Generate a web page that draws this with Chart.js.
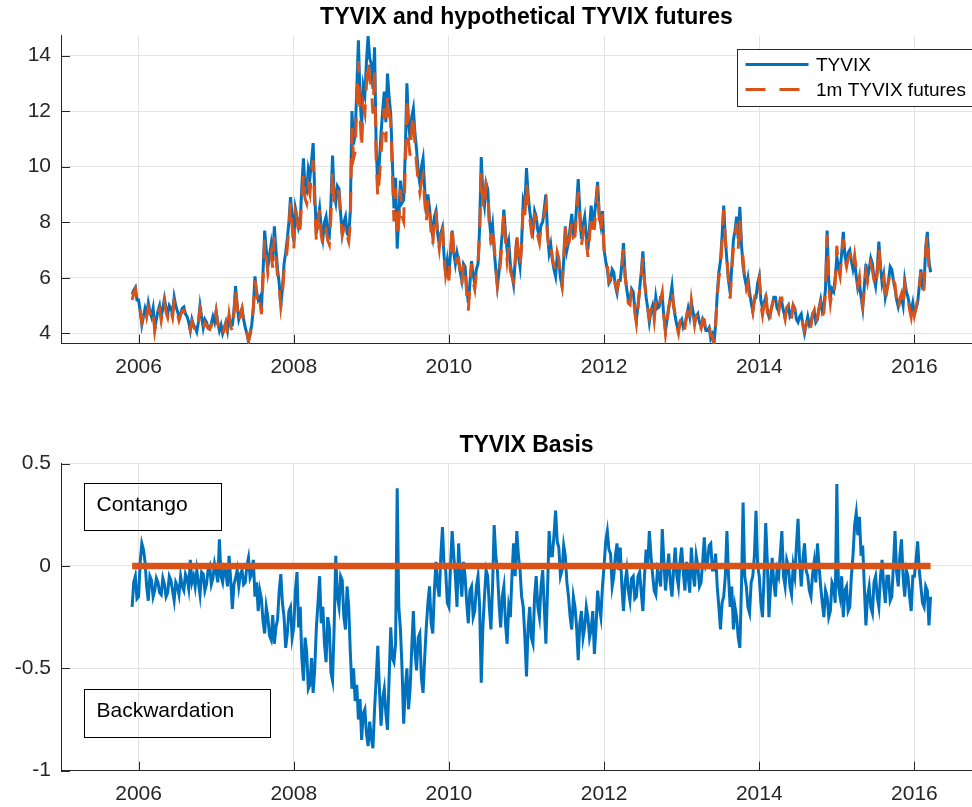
<!DOCTYPE html>
<html><head><meta charset="utf-8">
<script src="https://cdn.jsdelivr.net/npm/chart.js@4.4.1/dist/chart.umd.min.js"></script>
<style>
html,body{margin:0;padding:0;background:#fff;overflow:hidden;width:972px;height:807px;}
#wrap{position:relative;width:972px;height:807px;overflow:hidden;background:#fff;}
canvas{position:absolute;left:0;}
#c1{top:0;}
#c2{top:428px;}
</style></head><body>
<div id="wrap"><canvas id="c1" width="992" height="400"></canvas><canvas id="c2" width="992" height="379"></canvas></div>
<script>
// ---- data: weekly observations, the first one at the start of Dec 2005 ----
const firstObs = 2005 + 44/48;
const obsPerYear = 48;
const xTickYears = [2006, 2008, 2010, 2012, 2014, 2016];
const topYTicks = [4, 6, 8, 10, 12, 14];
const basisYTicks = [-1, -0.5, 0, 0.5];
const seriesNames = ['TYVIX', '1m TYVIX futures'];
const annotationTexts = ['Contango', 'Backwardation'];

const tyvix = [
5.4, 5.55, 5.65, 5.2,
5.2, 4.8, 4.3, 4.6, 4.9, 4.7, 5.1, 4.8, 4.6, 4.9, 4.2, 4.5, 4.8, 5.0, 4.6, 4.9, 5.25, 4.9, 4.7, 5.0, 4.9, 4.7, 5.3, 5.0,
4.8, 4.6, 4.7, 4.9, 4.95, 4.7, 4.6, 4.4, 4.1, 4.5, 4.3, 4.2, 4.05, 4.4, 5.0, 4.6, 4.2, 4.5, 4.4, 4.2, 4.15, 4.35, 4.6, 4.4,
4.8, 4.4, 4.1, 4.3, 4.0, 4.2, 4.4, 4.1, 4.6, 4.3, 4.3, 4.8, 5.7, 5.0, 4.5, 4.7, 4.9, 4.5, 4.2, 4.0, 3.7, 4.0, 4.3, 4.9,
6.05, 5.5, 5.2, 5.3, 4.85, 6.2, 7.7, 7.0, 6.4, 6.8, 7.2, 6.6, 7.85, 7.0, 6.3, 5.8, 5.0, 5.6, 6.5, 6.9, 7.4, 8.0, 8.9, 8.2,
7.3, 8.5, 8.2, 7.8, 8.0, 9.3, 10.3, 9.2, 9.1, 9.9, 9.6, 10.2, 10.85, 9.0, 7.6, 8.1, 8.5, 7.8, 7.4, 8.0, 8.2, 7.6, 7.5, 8.7,
10.4, 9.0, 8.7, 9.3, 9.2, 8.3, 7.6, 8.0, 8.2, 7.6, 7.5, 8.4, 12.0, 10.8, 11.2, 12.8, 14.55, 12.5, 11.5, 12.9, 12.6, 13.8, 14.7, 13.9,
13.7, 12.8, 14.3, 10.7, 9.3, 10.2, 11.2, 12.0, 12.7, 11.6, 13.35, 12.5, 11.9, 10.2, 8.5, 9.6, 7.05, 8.2, 9.5, 8.7, 8.8, 10.5, 13.0, 11.6,
11.0, 11.8, 12.1, 11.2, 10.6, 9.8, 9.4, 10.0, 10.3, 9.2, 8.3, 9.0, 8.5, 7.9, 7.5, 8.2, 8.4, 7.6, 7.2, 7.6, 7.8, 6.8, 6.1, 6.6,
6.1, 6.9, 7.7, 6.9, 6.5, 6.9, 6.6, 6.2, 5.9, 6.5, 6.4, 5.6, 5.1, 5.8, 6.6, 6.1, 5.8, 6.3, 6.5, 7.8, 10.35, 9.0, 8.6, 9.4,
9.2, 8.1, 7.5, 7.9, 7.0, 6.3, 5.7, 6.2, 6.9, 7.6, 8.45, 7.6, 7.0, 7.3, 6.5, 6.1, 5.75, 6.6, 7.4, 6.8, 6.4, 7.3, 8.8, 8.6,
9.95, 9.0, 8.4, 8.0, 7.7, 8.4, 8.2, 7.7, 7.5, 7.9, 8.0, 8.5, 9.0, 7.6, 6.9, 7.2, 6.65, 6.3, 6.05, 6.8, 6.6, 6.0, 5.7, 6.6,
7.85, 7.0, 7.3, 7.8, 8.3, 7.6, 7.7, 8.6, 9.55, 8.4, 7.4, 7.9, 8.2, 7.5, 7.0, 7.8, 8.6, 8.0, 8.2, 8.8, 9.45, 8.3, 7.9, 8.4,
7.0, 6.6, 6.3, 5.8, 5.9, 6.3, 6.2, 5.7, 5.45, 5.9, 5.9, 6.5, 7.25, 6.1, 5.6, 5.2, 5.2, 5.6, 5.5, 4.9, 4.5, 5.0, 5.6, 6.2,
6.95, 5.9, 5.3, 4.9, 4.4, 4.8, 5.0, 4.6, 5.3, 4.9, 4.95, 5.3, 5.3, 4.6, 4.1, 4.5, 4.9, 5.3, 5.7, 5.0, 4.6, 4.3, 4.1, 4.4,
4.5, 4.2, 4.3, 4.6, 4.9, 4.6, 5.1, 4.8, 4.4, 4.6, 4.7, 4.4, 4.25, 4.5, 4.35, 4.1, 4.1, 4.2, 3.8, 3.95, 3.65, 4.3, 5.4, 6.2,
6.6, 7.5, 8.6, 7.4, 6.6, 5.9, 5.45, 6.4, 7.35, 7.7, 8.2, 7.4, 8.55, 7.2, 6.4, 6.0, 5.7, 6.0, 5.5, 5.1, 4.8, 5.2, 5.3, 5.8,
6.05, 5.2, 4.9, 5.1, 5.3, 4.8, 4.6, 4.8, 5.0, 5.3, 5.3, 4.9, 4.8, 5.2, 5.1, 4.8, 4.6, 4.9, 5.0, 4.6, 4.7, 5.0, 4.9, 4.5,
4.4, 4.6, 4.7, 4.3, 4.0, 4.3, 4.6, 4.3, 4.4, 4.7, 4.8, 4.4, 4.5, 4.9, 5.2, 4.8, 5.0, 5.6, 7.7, 5.9, 5.3, 5.6, 5.5, 6.0,
6.75, 6.4, 6.2, 6.9, 7.65, 6.8, 6.5, 6.9, 7.0, 6.6, 6.3, 6.6, 6.05, 5.6, 5.8, 5.3, 4.9, 5.7, 6.5, 6.0, 6.3, 6.7, 6.5, 6.0,
5.7, 6.3, 7.3, 6.4, 5.8, 6.1, 5.3, 5.6, 5.9, 6.4, 6.3, 5.9, 5.6, 5.2, 4.95, 5.2, 5.3, 5.0, 5.9, 5.5, 5.3, 5.0, 4.8, 5.1,
4.7, 4.9, 5.1, 5.7, 6.3, 5.7, 5.8, 7.1, 7.65, 6.6, 6.2
];

const futures = [
5.2, 5.47, 5.6, 5.04,
5.05, 4.82, 4.41, 4.68, 4.92, 4.6, 4.93, 4.75, 4.53, 4.75, 4.08, 4.44, 4.72, 4.87, 4.46, 4.84, 5.16, 4.75, 4.57, 4.95, 4.83, 4.58, 5.13, 4.92,
4.7, 4.46, 4.65, 4.8, 4.83, 4.66, 4.54, 4.29, 4.13, 4.42, 4.25, 4.1, 4.03, 4.32, 4.86, 4.57, 4.16, 4.38, 4.31, 4.18, 4.15, 4.26, 4.54, 4.41,
4.77, 4.32, 4.23, 4.25, 3.92, 4.19, 4.37, 4.0, 4.65, 4.23, 4.09, 4.71, 5.64, 4.98, 4.4, 4.66, 4.88, 4.41, 4.12, 4.0, 3.74, 3.94, 4.26, 4.93,
5.9, 5.42, 4.98, 5.18, 4.69, 5.93, 7.37, 6.8, 6.15, 6.46, 6.84, 6.36, 7.47, 6.7, 6.04, 5.68, 4.96, 5.42, 6.25, 6.5, 7.07, 7.78, 8.7, 7.85,
7.0, 8.38, 8.17, 7.5, 7.8, 8.85, 9.74, 8.85, 8.68, 9.3, 9.02, 9.75, 10.23, 8.5, 7.3, 7.92, 8.45, 7.52, 7.2, 7.62, 7.73, 7.35, 7.2, 8.18,
9.84, 8.7, 8.75, 9.15, 9.0, 8.25, 7.53, 7.75, 7.89, 7.5, 7.3, 7.98, 11.4, 10.3, 10.54, 12.22, 13.8, 11.85, 10.65, 12.18, 11.9, 12.98, 13.82, 13.14,
12.86, 11.91, 13.6, 10.15, 8.91, 9.6, 10.42, 11.35, 12.1, 10.88, 12.55, 11.95, 11.6, 9.75, 8.03, 9.22, 7.43, 8.0, 9.19, 8.2, 8.03, 9.9, 12.5, 10.9,
10.4, 11.4, 11.88, 10.78, 10.09, 9.45, 9.07, 9.45, 9.68, 8.75, 8.0, 8.82, 8.4, 7.62, 7.17, 8.08, 8.42, 7.5, 7.05, 7.65, 7.99, 6.8, 6.08, 6.42,
5.9, 6.9, 7.87, 6.95, 6.45, 6.7, 6.71, 6.15, 5.75, 6.52, 6.35, 5.42, 4.82, 5.68, 6.5, 5.85, 5.58, 6.2, 6.45, 7.6, 9.78, 8.7, 8.45, 9.38,
9.15, 7.9, 7.19, 7.8, 7.2, 6.35, 5.68, 6.02, 6.6, 7.45, 8.35, 7.32, 6.62, 7.1, 6.25, 6.05, 5.86, 6.55, 7.57, 6.85, 6.38, 7.15, 8.6, 8.25,
9.41, 8.7, 8.2, 7.65, 7.32, 8.25, 8.15, 7.5, 7.25, 7.8, 7.98, 8.3, 8.62, 7.48, 7.07, 7.25, 6.7, 6.45, 6.32, 6.92, 6.69, 5.95, 5.68, 6.7,
7.9, 6.92, 7.15, 7.55, 7.99, 7.45, 7.5, 8.3, 9.09, 8.12, 7.18, 7.55, 7.9, 7.3, 6.75, 7.45, 8.29, 7.78, 7.77, 8.5, 9.33, 8.1, 7.65, 8.3,
7.0, 6.72, 6.47, 5.88, 5.96, 6.2, 6.15, 5.75, 5.56, 5.88, 5.99, 6.4, 7.03, 6.02, 5.58, 5.08, 5.03, 5.54, 5.45, 4.74, 4.35, 4.95, 5.57, 6.07,
6.73, 5.85, 5.38, 4.9, 4.57, 4.85, 4.96, 4.48, 5.16, 4.88, 4.9, 5.2, 5.48, 4.62, 3.98, 4.47, 4.96, 5.22, 5.55, 4.98, 4.69, 4.25, 4.0, 4.42,
4.59, 4.17, 4.18, 4.62, 4.85, 4.47, 5.19, 4.76, 4.3, 4.65, 4.7, 4.3, 4.17, 4.52, 4.49, 4.1, 4.12, 4.3, 3.91, 3.93, 3.65, 4.36, 5.3, 6.0,
6.29, 7.32, 8.45, 7.35, 6.77, 5.85, 5.25, 6.3, 7.04, 7.5, 7.95, 7.05, 8.15, 7.1, 6.71, 5.95, 5.6, 5.8, 5.27, 5.02, 4.75, 5.25, 5.57, 5.8,
6.0, 5.02, 4.65, 5.05, 5.51, 4.82, 4.35, 4.7, 5.04, 5.22, 5.15, 4.88, 4.75, 5.26, 5.27, 4.75, 4.5, 4.93, 5.0, 4.5, 4.56, 5.0, 4.85, 4.6,
4.63, 4.62, 4.6, 4.33, 4.11, 4.28, 4.55, 4.18, 4.25, 4.66, 4.82, 4.32, 4.61, 4.9, 5.1, 4.62, 4.75, 5.48, 7.55, 5.65, 5.08, 5.52, 5.4, 5.82,
7.15, 6.3, 6.05, 6.85, 7.4, 6.68, 6.4, 6.68, 6.8, 6.55, 6.35, 6.8, 6.31, 5.75, 6.04, 5.35, 5.0, 5.6, 6.21, 5.85, 6.2, 6.5, 6.27, 5.92,
5.65, 6.15, 7.1, 6.35, 5.83, 6.0, 5.12, 5.55, 5.85, 6.23, 6.15, 5.9, 5.77, 5.17, 4.85, 5.25, 5.43, 4.95, 5.75, 5.48, 5.25, 4.85, 4.58, 5.05,
4.65, 4.93, 5.22, 5.68, 6.2, 5.52, 5.6, 7.0, 7.53, 6.31, 6.05
];

const basis = [
-0.2, -0.08, -0.05, -0.16,
-0.15, 0.02, 0.11, 0.08, 0.02, -0.1, -0.17, -0.05, -0.07, -0.15, -0.12, -0.06, -0.08, -0.13, -0.14, -0.06, -0.09, -0.15, -0.13, -0.05, -0.07, -0.12, -0.17, -0.08,
-0.1, -0.14, -0.05, -0.1, -0.12, -0.04, -0.06, -0.11, 0.03, -0.08, -0.05, -0.1, -0.02, -0.08, -0.14, -0.03, -0.04, -0.12, -0.09, -0.02, 0.0, -0.09, -0.06, 0.01,
-0.03, -0.08, 0.13, -0.05, -0.08, -0.01, -0.03, -0.1, 0.05, -0.07, -0.21, -0.09, -0.06, -0.02, -0.1, -0.04, -0.02, -0.09, -0.08, 0.0, 0.04, -0.06, -0.04, 0.03,
-0.15, -0.08, -0.22, -0.12, -0.16, -0.27, -0.33, -0.2, -0.25, -0.34, -0.36, -0.24, -0.38, -0.3, -0.26, -0.12, -0.04, -0.18, -0.25, -0.4, -0.33, -0.22, -0.2, -0.35,
-0.3, -0.12, -0.03, -0.3, -0.2, -0.45, -0.56, -0.35, -0.42, -0.6, -0.58, -0.45, -0.62, -0.5, -0.3, -0.18, -0.05, -0.28, -0.2, -0.38, -0.47, -0.25, -0.3, -0.52,
-0.56, -0.3, 0.05, -0.15, -0.2, -0.05, -0.07, -0.25, -0.31, -0.1, -0.2, -0.42, -0.6, -0.5, -0.66, -0.58, -0.75, -0.65, -0.85, -0.72, -0.7, -0.82, -0.88, -0.76,
-0.84, -0.89, -0.7, -0.55, -0.39, -0.6, -0.78, -0.65, -0.6, -0.72, -0.8, -0.55, -0.3, -0.45, -0.47, -0.38, 0.38, -0.2, -0.31, -0.5, -0.77, -0.6, -0.5, -0.7,
-0.6, -0.4, -0.22, -0.42, -0.51, -0.35, -0.33, -0.55, -0.62, -0.45, -0.3, -0.18, -0.1, -0.28, -0.33, -0.12, 0.02, -0.1, -0.15, 0.05, 0.19, 0.0, -0.02, -0.18,
-0.2, 0.0, 0.17, 0.05, -0.05, -0.2, 0.11, -0.05, -0.15, 0.02, -0.05, -0.18, -0.28, -0.12, -0.1, -0.25, -0.22, -0.1, -0.05, -0.2, -0.57, -0.3, -0.15, -0.02,
-0.05, -0.2, -0.31, -0.1, 0.2, 0.05, -0.02, -0.18, -0.3, -0.15, -0.1, -0.28, -0.38, -0.2, -0.25, -0.05, 0.11, -0.05, 0.17, 0.05, -0.02, -0.15, -0.2, -0.35,
-0.54, -0.3, -0.2, -0.35, -0.38, -0.15, -0.05, -0.2, -0.25, -0.1, -0.02, -0.2, -0.38, -0.12, 0.17, 0.05, 0.05, 0.15, 0.27, 0.12, 0.09, -0.05, -0.02, 0.1,
0.05, -0.08, -0.15, -0.25, -0.31, -0.15, -0.2, -0.3, -0.46, -0.28, -0.22, -0.35, -0.3, -0.2, -0.25, -0.35, -0.31, -0.22, -0.43, -0.3, -0.12, -0.2, -0.25, -0.1,
0.0, 0.12, 0.17, 0.08, 0.06, -0.1, -0.05, 0.05, 0.11, -0.02, 0.09, -0.1, -0.22, -0.08, -0.02, -0.12, -0.17, -0.06, -0.05, -0.16, -0.15, -0.05, -0.03, -0.13,
-0.22, -0.05, 0.08, 0.0, 0.17, 0.05, -0.04, -0.12, -0.14, -0.02, -0.05, -0.1, 0.18, 0.02, -0.12, -0.03, 0.06, -0.08, -0.15, -0.02, 0.09, -0.05, -0.1, 0.02,
0.09, -0.03, -0.12, 0.02, -0.05, -0.13, 0.09, -0.04, -0.1, 0.05, 0.0, -0.1, -0.08, 0.02, 0.14, 0.0, 0.02, 0.1, 0.11, -0.02, -0.02, 0.06, -0.1, -0.2,
-0.31, -0.18, -0.15, -0.05, 0.17, -0.05, -0.2, -0.1, -0.31, -0.2, -0.25, -0.35, -0.4, -0.1, 0.31, -0.05, -0.1, -0.2, -0.23, -0.08, -0.05, 0.05, 0.27, 0.0,
-0.05, -0.18, -0.25, -0.05, 0.21, 0.02, -0.25, -0.1, 0.04, -0.08, -0.15, -0.02, -0.05, 0.06, 0.17, -0.05, -0.1, 0.03, 0.0, -0.1, -0.14, 0.0, -0.05, 0.1,
0.23, 0.02, -0.1, 0.03, 0.11, -0.02, -0.05, -0.12, -0.15, -0.04, 0.02, -0.08, 0.11, 0.0, -0.1, -0.18, -0.25, -0.12, -0.15, -0.25, -0.22, -0.08, -0.1, -0.18,
0.4, -0.1, -0.15, -0.05, -0.25, -0.12, -0.1, -0.22, -0.2, -0.05, 0.05, 0.2, 0.26, 0.15, 0.24, 0.05, 0.1, -0.1, -0.29, -0.15, -0.1, -0.2, -0.23, -0.08,
-0.05, -0.15, -0.2, -0.05, 0.03, -0.1, -0.18, -0.05, -0.05, -0.17, -0.15, 0.0, 0.17, -0.03, -0.1, 0.05, 0.13, -0.05, -0.15, -0.02, -0.05, -0.15, -0.22, -0.05,
-0.05, 0.03, 0.12, -0.02, -0.1, -0.18, -0.2, -0.1, -0.12, -0.29, -0.15
];
const zeroLine = [0, 0]; // reference line at zero, first to last observation

// ---- styling ----
const FONT = '"Liberation Sans", Arial, Helvetica, sans-serif';
const BLUE = '#0072BD', ORANGE = '#D95319';
const AXIS = '#262626', GRID = '#E3E3E3';
const DASH = [20, 14];

const obsDate = i => firstObs + i / obsPerYear;
const toPts = arr => arr.map((v, i) => ({x: obsDate(i), y: v}));
const lastDate = obsDate(basis.length - 1);

const inwardTicks = {
  id: 'inwardTicks',
  afterDraw(chart) {
    const {ctx, chartArea: a, scales} = chart;
    const x = scales.x, y = scales.y;
    ctx.save();
    ctx.strokeStyle = AXIS; ctx.lineWidth = 1;
    ctx.beginPath();
    x.ticks.forEach(t => { const px = Math.round(x.getPixelForValue(t.value)) + 0.5; ctx.moveTo(px, a.bottom); ctx.lineTo(px, a.bottom - 9); });
    y.ticks.forEach(t => { const py = Math.round(y.getPixelForValue(t.value)) + 0.5; ctx.moveTo(a.left, py); ctx.lineTo(a.left + 9, py); });
    ctx.stroke();
    ctx.restore();
  }
};

const legendBox = {
  id: 'legendBox',
  afterDraw(chart) {
    const {ctx, chartArea: a} = chart;
    const L = a.left + 676, T = a.top + 13.5, W = 250, H = 57;
    ctx.save();
    ctx.fillStyle = '#fff'; ctx.fillRect(L, T, W, H);
    ctx.strokeStyle = AXIS; ctx.lineWidth = 1; ctx.strokeRect(Math.round(L) + 0.5, Math.round(T) + 0.5, W, H);
    const rows = [T + 15.3, T + 40.3];
    chart.data.datasets.forEach((ds, i) => {
      ctx.beginPath();
      ctx.strokeStyle = ds.borderColor; ctx.lineWidth = 3;
      ctx.setLineDash(ds.borderDash || []);
      ctx.moveTo(L + 8.5, rows[i]); ctx.lineTo(L + 71.5, rows[i]);
      ctx.stroke();
      ctx.setLineDash([]);
      ctx.fillStyle = '#000'; ctx.font = '19px ' + FONT; ctx.textBaseline = 'middle'; ctx.textAlign = 'left';
      ctx.fillText(ds.label, L + 79, rows[i] + 1);
    });
    ctx.restore();
  }
};

const annotations = {
  id: 'annotations',
  afterDraw(chart) {
    const {ctx, scales: {x, y}} = chart;
    const boxes = [
      {x0: 2005.30, x1: 2007.06, y0: 0.407, y1: 0.175, text: annotationTexts[0]},
      {x0: 2005.30, x1: 2007.695, y0: -0.602, y1: -0.837, text: annotationTexts[1]}
    ];
    ctx.save();
    boxes.forEach(b => {
      const L = Math.round(x.getPixelForValue(b.x0)) + 0.5, R = Math.round(x.getPixelForValue(b.x1)) + 0.5;
      const T = Math.round(y.getPixelForValue(b.y0)) + 0.5, B = Math.round(y.getPixelForValue(b.y1)) + 0.5;
      ctx.strokeStyle = '#000'; ctx.lineWidth = 1;
      ctx.strokeRect(L, T, R - L, B - T);
      ctx.fillStyle = '#000'; ctx.font = '21px ' + FONT; ctx.textBaseline = 'alphabetic'; ctx.textAlign = 'left';
      ctx.fillText(b.text, L + 12, T + 27.5);
    });
    ctx.restore();
  }
};

function makeOptions(title, yMin, yMax, yTicks, canvasH, chartBottom) {
  return {
    responsive: false, animation: false, devicePixelRatio: 1,
    layout: {padding: 0},
    plugins: {
      legend: {display: false}, tooltip: {enabled: false},
      title: {display: true, text: title, fullSize: false, color: '#000',
        font: {family: FONT, size: 23, weight: 'bold'}, padding: {top: 4, bottom: 4}}
    },
    elements: {point: {radius: 0}, line: {tension: 0}},
    scales: {
      x: {
        type: 'linear', min: 2005, max: 2017,
        afterBuildTicks: s => { s.ticks = xTickYears.map(v => ({value: v})); },
        afterFit: s => { s.height = canvasH - chartBottom; },
        ticks: {color: AXIS, font: {family: FONT, size: 21}, padding: 11, maxRotation: 0, autoSkip: false,
          callback: v => String(v)},
        grid: {color: GRID, drawTicks: false, lineWidth: 1},
        border: {display: true, color: AXIS, width: 1}
      },
      y: {
        type: 'linear', min: yMin, max: yMax,
        afterBuildTicks: s => { s.ticks = yTicks.map(v => ({value: v})); },
        afterFit: s => { s.width = 61; },
        ticks: {color: AXIS, font: {family: FONT, size: 21}, padding: 10, autoSkip: false,
          callback: v => String(v)},
        grid: {color: GRID, drawTicks: false, lineWidth: 1},
        border: {display: true, color: AXIS, width: 1}
      }
    }
  };
}

new Chart(document.getElementById('c1'), {
  type: 'line',
  data: {datasets: [
    {label: seriesNames[0], data: toPts(tyvix), borderColor: BLUE, borderWidth: 3, order: 2, pointRadius: 0},
    {label: seriesNames[1], data: toPts(futures), borderColor: ORANGE, borderWidth: 3, borderDash: DASH, order: 1, pointRadius: 0}
  ]},
  options: makeOptions('TYVIX and hypothetical TYVIX futures', 3.625, 14.72, topYTicks, 400, 343.7),
  plugins: [inwardTicks, legendBox]
});

new Chart(document.getElementById('c2'), {
  type: 'line',
  data: {datasets: [
    {label: 'Basis', data: toPts(basis), borderColor: BLUE, borderWidth: 3, order: 2, pointRadius: 0},
    {label: 'Zero', data: [{x: firstObs, y: zeroLine[0]}, {x: lastDate, y: zeroLine[1]}], borderColor: ORANGE, borderWidth: 6.5, borderCapStyle: 'butt', order: 1, pointRadius: 0}
  ]},
  options: makeOptions('TYVIX Basis', -1, 0.5, basisYTicks, 379, 342.7),
  plugins: [inwardTicks, annotations]
});
</script>
</body></html>
